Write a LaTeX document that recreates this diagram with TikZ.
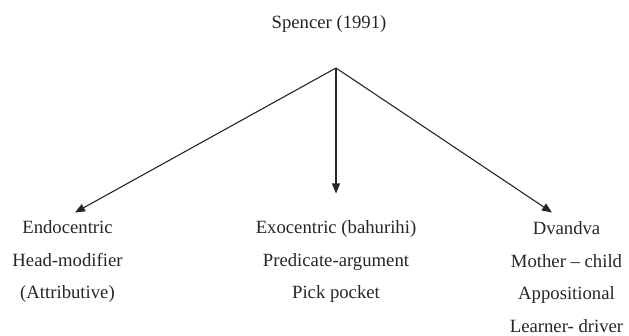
\documentclass[tikz,border=0pt]{standalone}
\usepackage{fontspec}
\setmainfont{Liberation Serif}
\usetikzlibrary{arrows.meta}
\begin{document}
\begin{tikzpicture}[x=1pt,y=-1pt,
  lbl/.style={inner sep=0pt,anchor=base,align=center,
    font=\fontsize{18.7}{32.5}\selectfont,text=black!85},
  conn/.style={line width=1.1pt,draw=black!85,
    -{Triangle[length=10pt,width=8pt]}}]
\useasboundingbox (0,0) rectangle (629,336);
\node[lbl] (top) at (329,29) {Spencer (1991)};
\coordinate (apex) at (336,68);
\node[lbl] (endo) at (67.5,299) {Endocentric\\Head-modifier\\(Attributive)};
\node[lbl] (exo) at (336,299) {Exocentric (bahurihi)\\Predicate-argument\\Pick pocket};
\node[lbl] (dva) at (566.5,332.5) {Dvandva\\Mother -- child\\Appositional\\Learner- driver};
\coordinate (tipL) at (75,212.5);
\coordinate (tipM) at (336,193.5);
\coordinate (tipR) at (552,212.5);
\draw[conn] (apex) -- (tipL);
\draw[conn] (apex) -- (tipM);
\draw[conn] (apex) -- (tipR);
\end{tikzpicture}
\end{document}
